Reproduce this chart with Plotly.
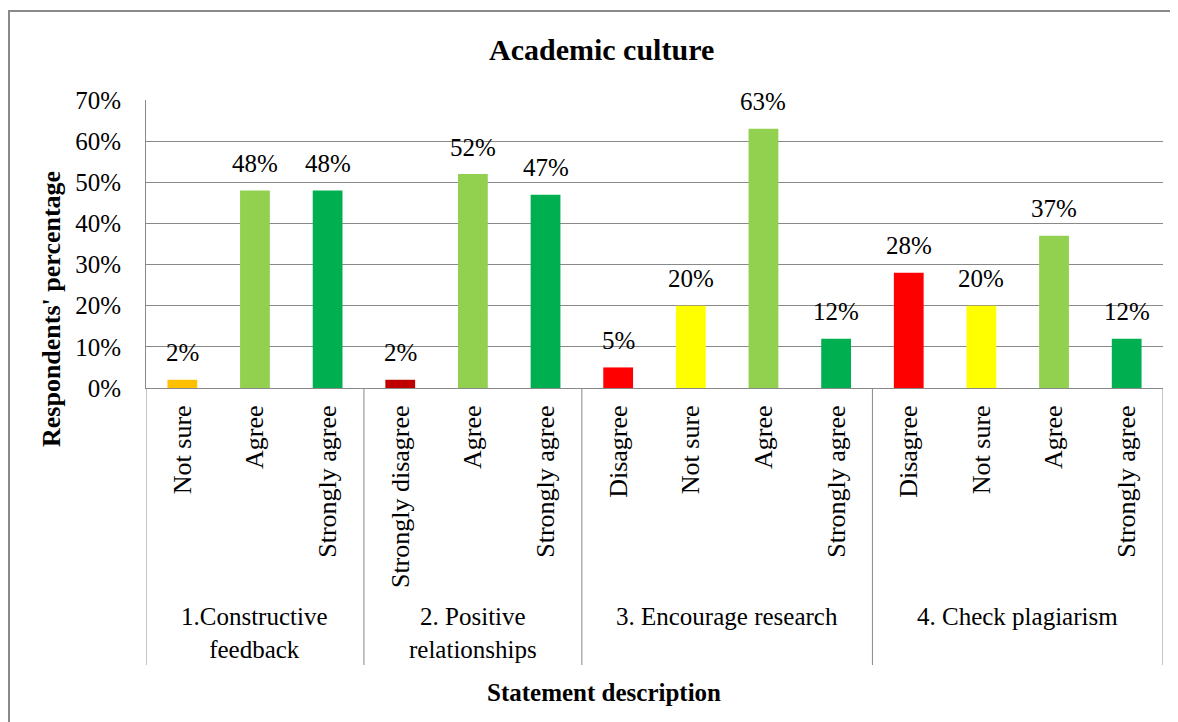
import plotly.graph_objects as go

# ---- data ----
categories = ["Not sure", "Agree", "Strongly agree",
              "Strongly disagree", "Agree", "Strongly agree",
              "Disagree", "Not sure", "Agree", "Strongly agree",
              "Disagree", "Not sure", "Agree", "Strongly agree"]
values = [0.02, 0.48, 0.48,
          0.02, 0.52, 0.47,
          0.05, 0.20, 0.63, 0.12,
          0.28, 0.20, 0.37, 0.12]
colors = ["#FFC000", "#92D050", "#00B050",
          "#C00000", "#92D050", "#00B050",
          "#FF0000", "#FFFF00", "#92D050", "#00B050",
          "#FF0000", "#FFFF00", "#92D050", "#00B050"]
groups = ["1.Constructive<br>feedback", "2. Positive<br>relationships",
          "3. Encourage research", "4. Check plagiarism"]
group_sizes = [3, 3, 4, 4]
y_ticks = [0, 0.1, 0.2, 0.3, 0.4, 0.5, 0.6, 0.7]

FONT = "Times New Roman, Liberation Serif, serif"
GRAY = "#898989"
OFF = 8  # browser body margin
W, H = 1178 - OFF, 722 - OFF
L, R, T, B = 146 - OFF, 15, 100 - OFF, 334
pw, ph = W - L - R, H - T - B


def px_x(px):
    return (px - OFF - L) / pw


def px_y(py):
    return (T + ph - (py - OFF)) / ph


idx = list(range(len(values)))

fig = go.Figure()
fig.add_trace(go.Bar(x=idx, y=values, marker_color=colors, width=0.41,
                     marker_line_width=0, hoverinfo="skip"))

annotations = []
for i, v in zip(idx, values):
    annotations.append(dict(x=i, y=v, xref="x", yref="y", text=f"{round(v*100)}%",
                            showarrow=False, xanchor="center", yanchor="middle", yshift=27,
                            font=dict(family=FONT, size=25, color="black")))

shapes = []
start = 0
bounds = [-0.5]
for g, n in zip(groups, group_sizes):
    center = start + (n - 1) / 2
    annotations.append(dict(x=center, y=px_y(601), xref="x", yref="paper", text=g,
                            showarrow=False, yanchor="top", xanchor="center",
                            font=dict(family=FONT, size=25, color="black")))
    start += n
    bounds.append(start - 0.5)

for b in bounds:
    shapes.append(dict(type="line", xref="x", yref="paper", x0=b, x1=b,
                       y0=0, y1=px_y(665), line=dict(color=GRAY, width=1)))

# outer border
shapes.append(dict(type="rect", xref="paper", yref="paper",
                   x0=px_x(9), x1=px_x(1200), y0=px_y(740), y1=px_y(11),
                   line=dict(color=GRAY, width=2)))

annotations.append(dict(x=px_x(601), y=px_y(50), xref="paper", yref="paper",
                        text="<b>Academic culture</b>", showarrow=False,
                        xanchor="center", yanchor="middle",
                        font=dict(family=FONT, size=30, color="black")))
annotations.append(dict(x=px_x(51), y=px_y(309), xref="paper", yref="paper",
                        text="<b>Respondents' percentage</b>", showarrow=False,
                        textangle=-90, xanchor="center", yanchor="middle",
                        font=dict(family=FONT, size=26, color="black")))
annotations.append(dict(x=px_x(604), y=px_y(692), xref="paper", yref="paper",
                        text="<b>Statement description</b>", showarrow=False,
                        xanchor="center", yanchor="middle",
                        font=dict(family=FONT, size=25, color="black")))

fig.update_layout(
    width=W, height=H,
    margin=dict(l=L, r=R, t=T, b=B, pad=0),
    paper_bgcolor="white", plot_bgcolor="white",
    showlegend=False,
    font=dict(family=FONT, color="black"),
    xaxis=dict(range=[-0.5, 13.5], tickmode="array", tickvals=idx,
               ticktext=categories, tickangle=-90,
               tickfont=dict(family=FONT, size=26, color="black"),
               showgrid=False, zeroline=False, showline=True,
               linecolor=GRAY, linewidth=1, ticks="",
               ticklabelstandoff=6, fixedrange=True),
    yaxis=dict(range=[0, 0.7], tickmode="array", tickvals=y_ticks,
               tickformat=".0%", tickfont=dict(family=FONT, size=25, color="black"),
               showgrid=True, gridcolor=GRAY, gridwidth=1,
               zeroline=False, showline=True, linecolor=GRAY, linewidth=1,
               ticks="", ticklabelstandoff=19, fixedrange=True),
    annotations=annotations,
    shapes=shapes,
)

fig.write_html("out.html", config={"displayModeBar": False})
